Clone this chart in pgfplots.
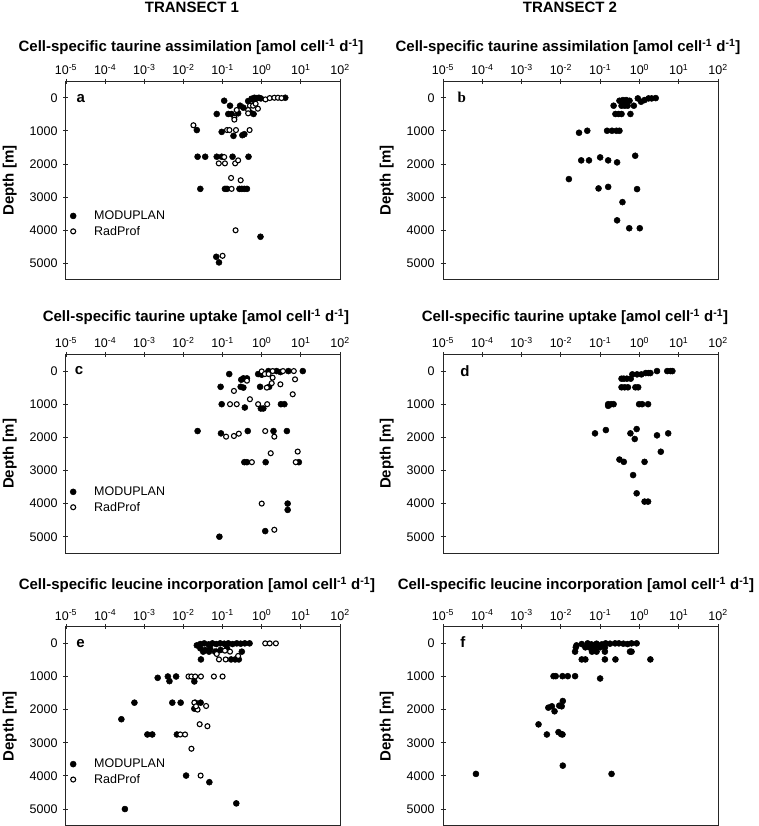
\documentclass[border=0pt]{standalone}
\usepackage{pgfplots}
\pgfplotsset{compat=1.18}
\usepackage{fontspec}
\setmainfont{Liberation Sans}
\newfontfamily\serifb{Liberation Serif}
\newcommand{\tk}[1]{10\textsuperscript{#1}}
\pgfplotsset{
  every axis/.append style={
    xmode=log, xmin=1e-5, xmax=1e2, ymin=-500, ymax=5500, y dir=reverse,
    scale only axis, width=274pt, height=198.8pt,
    xtick={1e-5,1e-4,1e-3,1e-2,1e-1,1e0,1e1,1e2},
    xticklabels={\tk{-5},\tk{-4},\tk{-3},\tk{-2},\tk{-1},\tk{0},\tk{1},\tk{2}},
    xminorticks=false,
    xtick pos=right, xticklabel pos=right,
    ytick={0,1000,2000,3000,4000,5000},
    yticklabels={0,1000,2000,3000,4000,5000},
    ytick pos=left,
    tick align=center, major tick length=5pt,
    tick style={line width=0.8pt, black!85},
    tick label style={font=\fontsize{12.5}{15}\selectfont},
    yticklabel style={xshift=-2.5pt},
    xticklabel style={yshift=0.5pt},
    ylabel={Depth [m]},
    ylabel style={at={(axis description cs:-0.205,0.5)}, anchor=center, font=\fontsize{15}{18}\selectfont\bfseries},
    axis line style={line width=1pt, black!85},
    clip=false,
    legend cell align=left,
    legend style={anchor=west, draw=none, fill=none, xshift=1pt,
      font=\fontsize{12.5}{15}\selectfont, row sep=1pt},
  },
}
\begin{document}
\begin{tikzpicture}
\useasboundingbox (0pt,0pt) rectangle (758pt,826pt);
\node[font=\fontsize{15}{18}\selectfont\bfseries, anchor=center, inner sep=0pt] at (192pt,819pt) {TRANSECT 1};
\node[font=\fontsize{15}{18}\selectfont\bfseries, anchor=center, inner sep=0pt] at (570pt,819pt) {TRANSECT 2};
\node[font=\fontsize{15}{18}\selectfont\bfseries, anchor=center, inner sep=0pt] at (191pt,779pt) {Cell-specific taurine assimilation [amol cell\textsuperscript{-1} d\textsuperscript{-1}]};
\node[font=\fontsize{15}{18}\selectfont\bfseries, anchor=center, inner sep=0pt] at (568pt,779pt) {Cell-specific taurine assimilation [amol cell\textsuperscript{-1} d\textsuperscript{-1}]};
\node[font=\fontsize{15}{18}\selectfont\bfseries, anchor=center, inner sep=0pt] at (196pt,509pt) {Cell-specific taurine uptake [amol cell\textsuperscript{-1} d\textsuperscript{-1}]};
\node[font=\fontsize{15}{18}\selectfont\bfseries, anchor=center, inner sep=0pt] at (575pt,509pt) {Cell-specific taurine uptake [amol cell\textsuperscript{-1} d\textsuperscript{-1}]};
\node[font=\fontsize{15}{18}\selectfont\bfseries, anchor=center, inner sep=0pt] at (197pt,241pt) {Cell-specific leucine incorporation [amol cell\textsuperscript{-1} d\textsuperscript{-1}]};
\node[font=\fontsize{15}{18}\selectfont\bfseries, anchor=center, inner sep=0pt] at (576pt,241pt) {Cell-specific leucine incorporation [amol cell\textsuperscript{-1} d\textsuperscript{-1}]};

% ---------- panel a ----------
\begin{axis}[at={(66pt,744.8pt)}, anchor=north west, legend style={at={(axis description cs:0,0.283)}}]
\addplot[only marks, mark=*, mark size=3pt, mark options={fill=black, draw=black, line width=0.5pt}] coordinates {
(0.45,100) (0.55,30) (0.65,0) (0.75,10) (0.85,0) (0.95,20) (4.0,0) (0.6,60)
(0.11,90) (0.155,240) (0.28,240) (0.34,300)
(0.071,490) (0.14,490) (0.17,490) (0.25,470) (0.50,440) (0.62,490)
(0.022,975) (0.095,1030) (0.19,1150) (0.32,1130) (0.36,1100)
(0.023,1780) (0.036,1780) (0.071,1780) (0.095,1780) (0.18,1780) (0.46,1780)
(0.027,2750) (0.115,2750) (0.13,2750) (0.27,2750) (0.31,2750) (0.36,2750) (0.42,2750)
(0.93,4195) (0.069,4800) (0.081,4970)
};
\addlegendentry{\hspace{16pt}MODUPLAN}
\addplot[only marks, mark=*, mark size=2.5pt, mark options={fill=white, draw=black, line width=1.1pt}] coordinates {
(1.25,50) (1.6,10) (2.1,0) (2.6,0) (3.2,10)
(0.5,240) (0.6,240) (0.7,180) (0.23,370) (0.45,370) (0.8,330) (0.45,470) (0.2,600) (0.2,660)
(0.018,830)
(0.13,975) (0.15,975) (0.22,975) (0.49,975)
(0.11,1790) (0.08,1980) (0.115,1980) (0.21,1980) (0.25,1890)
(0.165,2420) (0.29,2490) (0.17,2750) (0.215,4000) (0.10,4770)
};
\addlegendentry{\hspace{16pt}RadProf}
\node[anchor=base, font=\fontsize{15}{18}\selectfont\bfseries] at (axis cs:2.4e-5,130) {a};
\end{axis}

% ---------- panel b ----------
\begin{axis}[at={(443pt,744.8pt)}, anchor=north west, width=275pt]
\addplot[only marks, mark=*, mark size=3pt, mark options={fill=black, draw=black, line width=0.5pt}] coordinates {
(0.91,20) (1.1,120) (1.35,70) (1.7,20) (2.05,20) (2.6,10)
(0.31,90) (0.38,70) (0.46,70) (0.56,90) (0.42,170)
(0.22,240) (0.35,240) (0.42,240) (0.50,240) (0.72,240)
(0.245,490) (0.295,490) (0.35,490) (0.59,490)
(0.029,1056) (0.047,996) (0.15,996) (0.20,996) (0.26,996) (0.31,996)
(0.78,1750) (0.10,1800) (0.033,1890) (0.052,1890) (0.16,1890) (0.27,1950)
(0.016,2455) (0.091,2737) (0.16,2690) (0.87,2757) (0.37,3150) (0.27,3700) (0.55,3938) (1.02,3938)
};
\node[anchor=base, font=\fontsize{15}{18}\selectfont\serifb\bfseries] at (axis cs:3.0e-5,150) {b};
\end{axis}

% ---------- panel c ----------
\begin{axis}[at={(66pt,471.5pt)}, anchor=north west, legend style={at={(axis description cs:0,0.27)}}]
\addplot[only marks, mark=*, mark size=3pt, mark options={fill=black, draw=black, line width=0.5pt}] coordinates {
(1.48,0) (2.4,0) (4.8,0) (11.2,0) (3.0,30)
(0.148,90) (0.81,90) (1.0,110)
(0.34,220) (0.42,220) (0.30,260)
(0.089,475) (0.29,475) (0.34,500) (0.91,475) (1.55,475)
(0.095,1000) (0.37,1100) (0.95,1130) (1.1,1130) (3.1,1000) (3.8,1000)
(0.023,1810) (0.091,1880) (0.44,1810) (2.0,1810) (4.4,1810)
(0.36,2750) (0.42,2750) (1.26,2750) (8.9,2750)
(4.6,4000) (4.6,4190) (1.23,4830) (0.083,5000)
};
\addlegendentry{\hspace{16pt}MODUPLAN}
\addplot[only marks, mark=*, mark size=2.5pt, mark options={fill=white, draw=black, line width=1.1pt}] coordinates {
(1.0,10) (1.9,0) (3.5,0) (6.6,0)
(1.2,90) (1.5,90) (0.42,290)
(1.35,500) (3.0,400) (1.8,365) (7.1,250) (1.9,200)
(0.195,600) (6.2,700) (0.5,850)
(0.155,1000) (0.23,1000) (0.81,1000) (1.38,1000)
(0.123,1980) (0.195,1960) (0.26,1890) (1.23,1810) (2.1,1980)
(1.7,2480) (8.3,2430) (0.56,2750) (7.4,2750)
(1.0,4000) (2.1,4790)
};
\addlegendentry{\hspace{16pt}RadProf}
\node[anchor=base, font=\fontsize{15}{18}\selectfont\bfseries] at (axis cs:2.15e-5,90) {c};
\end{axis}

% ---------- panel d ----------
\begin{axis}[at={(443pt,471.5pt)}, anchor=north west, width=275pt]
\addplot[only marks, mark=*, mark size=3pt, mark options={fill=black, draw=black, line width=0.5pt}] coordinates {
(2.8,0) (5.1,0) (6.2,0) (6.9,0) (1.45,60) (1.7,60) (1.9,60)
(0.66,100) (0.87,100) (1.12,100) (0.35,230) (0.40,230) (0.48,230) (0.60,230)
(0.35,490) (0.42,490) (0.51,490) (0.79,490) (0.93,490)
(0.16,1000) (0.19,1000) (0.22,1000) (0.16,1050) (0.98,1000) (1.17,1000) (1.66,1000)
(0.14,1780) (0.85,1750) (0.074,1880) (0.59,1880) (5.4,1880) (2.8,1940) (0.76,2050)
(3.5,2435) (0.31,2670) (0.40,2740) (1.35,2740) (0.69,3140) (0.85,3690) (1.35,3940) (1.66,3940)
};
\node[anchor=base, font=\fontsize{15}{18}\selectfont\bfseries] at (axis cs:3.6e-5,150) {d};
\end{axis}

% ---------- panel e ----------
\begin{axis}[at={(66pt,199.2pt)}, anchor=north west, legend style={at={(axis description cs:0,0.27)}}]
\addplot[only marks, mark=*, mark size=3pt, mark options={fill=black, draw=black, line width=0.5pt}] coordinates {
(0.022,60) (0.027,20) (0.034,0) (0.044,30) (0.055,0) (0.069,20) (0.087,0)
(0.11,10) (0.14,0) (0.18,20) (0.23,0) (0.29,10) (0.37,0) (0.49,0)
(0.027,150) (0.036,200) (0.048,150) (0.064,250) (0.089,200) (0.13,150) (0.31,250)
(0.032,250) (0.045,250) (0.07,250)
(0.028,485) (0.165,485) (0.21,485) (0.26,485)
(0.0022,1040) (0.004,1000) (0.0044,1140) (0.0065,1000) (0.019,1150)
(0.00056,1790) (0.0052,1790) (0.0085,1790) (0.020,1790) (0.0275,1790) (0.019,1970)
(0.00026,2290)
(0.0012,2750) (0.0016,2750) (0.0068,2750)
(0.0117,3990) (0.046,4190) (0.224,4830) (0.00032,5000)
};
\addlegendentry{\hspace{16pt}MODUPLAN}
\addplot[only marks, mark=*, mark size=2.5pt, mark options={fill=white, draw=black, line width=1.1pt}] coordinates {
(1.23,0) (1.6,0) (2.3,0)
(0.071,320) (0.115,220) (0.155,250) (0.25,380) (0.081,485) (0.12,485)
(0.0135,1000) (0.016,1000) (0.020,1000) (0.028,1000) (0.060,1000) (0.10,1000)
(0.019,1790) (0.023,2000) (0.038,1890) (0.021,1900)
(0.026,2440) (0.041,2500)
(0.0083,2750) (0.011,2750) (0.016,3180) (0.0275,3990)
};
\addlegendentry{\hspace{16pt}RadProf}
\node[anchor=base, font=\fontsize{15}{18}\selectfont\bfseries] at (axis cs:2.35e-5,120) {e};
\end{axis}

% ---------- panel f ----------
\begin{axis}[at={(443pt,199.2pt)}, anchor=north west, width=275pt]
\addplot[only marks, mark=*, mark size=3pt, mark options={fill=black, draw=black, line width=0.5pt}] coordinates {
(0.025,60) (0.034,20) (0.048,0) (0.060,30) (0.081,10) (0.11,30) (0.138,0)
(0.178,10) (0.24,0) (0.30,0) (0.39,10) (0.50,20) (0.63,0) (0.85,0)
(0.024,120) (0.042,120) (0.055,130) (0.074,110) (0.10,120) (0.132,120)
(0.023,250) (0.062,250) (0.081,250) (0.132,250) (0.575,250) (0.63,250)
(0.034,485) (0.042,485) (0.132,485) (0.245,485) (1.9,485)
(0.0065,990) (0.0074,990) (0.011,990) (0.015,990) (0.023,990) (0.10,1060)
(0.0112,1740) (0.0048,1940) (0.0059,1900) (0.0069,2050) (0.0091,1880) (0.0105,1900)
(0.0027,2445) (0.0044,2750) (0.0087,2680) (0.0102,2740) (0.011,2750)
(0.0112,3690) (0.000069,3940) (0.195,3940)
};
\node[anchor=base, font=\fontsize{15}{18}\selectfont\bfseries] at (axis cs:3.2e-5,120) {f};
\end{axis}
\end{tikzpicture}
\end{document}
